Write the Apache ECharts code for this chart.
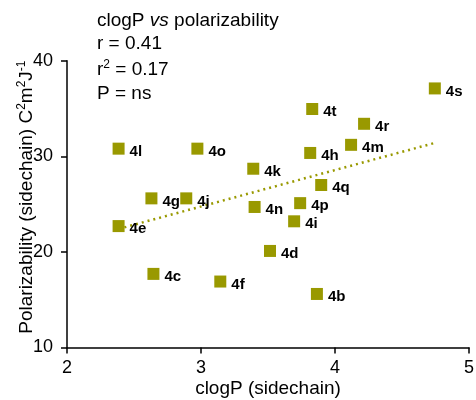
<!DOCTYPE html>
<html><head><meta charset="utf-8">
<script src="https://cdn.jsdelivr.net/npm/echarts@6/dist/echarts.min.js"></script>
<style>html,body{margin:0;padding:0;background:#fff}#c{width:476px;height:400px}</style>
</head><body><div id="c"></div>
<script>
const names = ['4b','4c','4d','4e','4f','4g','4h','4i','4j','4k','4l','4m','4n','4o','4p','4q','4r','4s','4t'];
const clogP = [3.865,2.645,3.515,2.385,3.144,2.63,3.815,3.695,2.89,3.39,2.385,4.12,3.40,2.973,3.74,3.897,4.217,4.745,3.83];
const polar = [15.6,17.7,20.1,22.7,16.9,25.6,30.35,23.2,25.6,28.7,30.8,31.2,24.7,30.8,25.1,27.0,33.4,37.1,34.95];
const fitX = [2.385, 4.745];
const fitY = [22.4, 31.4];
const xTicks = [2,3,4,5];
const yTicks = [10,20,30,40];

const font = 'Liberation Sans, Arial, sans-serif';
const olive = '#999900';
const FS = 19;
const chart = echarts.init(document.getElementById('c'));
chart.setOption({
  animation:false,
  textStyle:{fontFamily:font},
  grid:{left:67,right:7,top:60.7,bottom:52.5,containLabel:false,outerBoundsMode:'none'},
  graphic:[
    {type:'text',left:97,top:11,style:{text:'{a|clogP }{i|vs}{a| polarizability}',rich:{a:{fontSize:FS,fontFamily:font,fill:'#000'},i:{fontSize:FS,fontStyle:'italic',fontFamily:font,fill:'#000'}}}},
    {type:'text',left:97,top:34,style:{text:'r = 0.41',font:FS+'px '+font,fill:'#000'}},
    {type:'text',left:97,top:59,style:{text:'{a|r}{s|2}{a| = 0.17}',rich:{a:{fontSize:FS,fontFamily:font,fill:'#000',verticalAlign:'bottom',lineHeight:20},s:{fontSize:12,fontFamily:font,fill:'#000',verticalAlign:'top',lineHeight:12}}}},
    {type:'text',left:97,top:84,style:{text:'P = ns',font:FS+'px '+font,fill:'#000'}}
  ],
  xAxis:{type:'value',min:xTicks[0],max:xTicks[xTicks.length-1],interval:1,
    name:'clogP (sidechain)',nameLocation:'middle',nameGap:32,nameMoveOverlap:false,
    nameTextStyle:{fontSize:FS,color:'#000',fontFamily:font},
    axisLine:{onZero:false,lineStyle:{color:'#000',width:1.5}},
    axisTick:{length:6,lineStyle:{color:'#000',width:1.5}},
    axisLabel:{fontSize:18,color:'#000',margin:12,fontFamily:font},
    splitLine:{show:false}},
  yAxis:{type:'value',min:yTicks[0],max:yTicks[yTicks.length-1],interval:10,
    name:'{n|Polarizability (sidechain) C}{s|2}{n|m}{s|2}{n|J}{s|-1}',nameLocation:'middle',nameGap:31,nameMoveOverlap:false,
    nameTextStyle:{color:'#000',fontFamily:font,padding:[0,0,0,14],rich:{n:{fontSize:FS,fontFamily:font,color:'#000',verticalAlign:'bottom',lineHeight:20},s:{fontSize:12,fontFamily:font,color:'#000',verticalAlign:'top',lineHeight:12}}},
    axisLine:{show:true,onZero:false,lineStyle:{color:'#000',width:1.5}},
    axisTick:{show:true,length:6,lineStyle:{color:'#000',width:1.5}},
    axisLabel:{fontSize:18,color:'#000',margin:14,fontFamily:font},
    splitLine:{show:false}},
  series:[
    {type:'line',data:fitX.map((x,i)=>[x,fitY[i]]),symbol:'none',z:1,
      lineStyle:{color:olive,width:2.5,type:[2,4]}},
    {type:'scatter',symbol:'rect',symbolSize:12,z:2,
      itemStyle:{color:olive,opacity:1},
      data:clogP.map((x,i)=>({value:[x,polar[i]],name:names[i]})),
      label:{show:true,position:'right',distance:5,offset:[0,3],formatter:p=>p.name,
        fontSize:15,fontWeight:'bold',color:'#000',fontFamily:font}}
  ]
});
</script></body></html>
